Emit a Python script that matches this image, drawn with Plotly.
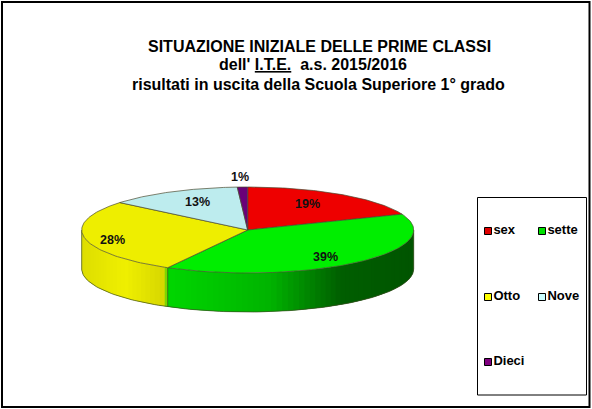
import numpy as np
import plotly.graph_objects as go

# dati
categorie = ['sex', 'sette', 'Otto', 'Nove', 'Dieci']
valori = [19, 39, 28, 13, 1]
colori = ['#EE0000', '#00EE00', '#EEEE00', '#BDECEE', '#6A0078']
colori_legenda = ['#E00000', '#00E000', '#FFFF00', '#CCFFFF', '#800080']
etichette = ['19%', '39%', '28%', '13%', '1%']
pos_etichette = [(307, 204), (325, 257), (112, 240), (197, 202), (240, 177)]
titolo = ['SITUAZIONE INIZIALE DELLE PRIME CLASSI',
          "dell' <u>I.T.E.</u>\u00a0\u00a0a.s. 2015/2016",
          'risultati in uscita della Scuola Superiore 1° grado']
pos_titolo = [(319.5, 46), (312.5, 64.5), (318, 84)]

# geometria della torta (pixel)
cx, cy, rx, ry, h = 247.7, 230, 166, 43, 39

# gradiente del bordo laterale in funzione di x
grad_x = [82, 125, 166, 166.5, 270, 340, 413]
grad_r = [222, 240, 214, 0, 0, 0, 0]
grad_g = [222, 240, 214, 215, 180, 95, 85]
grad_b = [0, 0, 0, 0, 0, 0, 0]

FONT = 'Liberation Sans'


def punto(ang):
    return cx + rx * np.sin(ang), cy - ry * np.cos(ang)


fig = go.Figure()

quote = np.cumsum([0] + valori) / sum(valori) * 2 * np.pi

# bordo laterale: solo la metà davanti
passi = np.radians(np.arange(90, 270.01, 2.0))
passi = np.unique(np.append(passi, quote[(quote > np.pi / 2) & (quote < 3 * np.pi / 2)]))
for k in range(len(passi) - 1):
    a0, a1 = passi[k], passi[k + 1]
    # ogni pezzo si sovrappone al successivo, cosi non restano righe chiare
    fine = passi[min(k + 2, len(passi) - 1)]
    aa = np.linspace(a0, fine, 6)
    x, y = punto(aa)
    xm = punto((a0 + a1) / 2)[0]
    col = 'rgb(%d,%d,%d)' % (np.interp(xm, grad_x, grad_r), np.interp(xm, grad_x, grad_g), np.interp(xm, grad_x, grad_b))
    fig.add_trace(go.Scatter(x=list(x) + list(x[::-1]), y=list(y) + list(y[::-1] + h),
                             mode='lines', fill='toself', fillcolor=col,
                             line=dict(color=col, width=0), hoverinfo='skip', showlegend=False))

# contorno del bordo laterale
aa = np.linspace(np.pi / 2, 3 * np.pi / 2, 120)
x, y = punto(aa)
fig.add_trace(go.Scatter(x=x, y=y + h, mode='lines', line=dict(color='#3A4A20', width=0.7),
                         hoverinfo='skip', showlegend=False))
for a in [np.pi / 2, 3 * np.pi / 2, quote[2]]:
    x0, y0 = punto(a)
    fig.add_trace(go.Scatter(x=[x0, x0], y=[y0, y0 + h], mode='lines', line=dict(color='#3A4A20', width=0.7),
                             hoverinfo='skip', showlegend=False))

# faccia superiore
for i, col in enumerate(colori):
    aa = np.linspace(quote[i], quote[i + 1], 80)
    x, y = punto(aa)
    fig.add_trace(go.Scatter(x=[cx] + list(x) + [cx], y=[cy] + list(y) + [cy], mode='lines', fill='toself',
                             fillcolor=col, line=dict(color='#4A4A30', width=0.7),
                             hoverinfo='skip', showlegend=False))

# legenda
leg_x = [488, 542, 488, 542, 488]
leg_y = [231, 231, 297, 297, 362]
fig.add_trace(go.Scatter(x=leg_x, y=leg_y, mode='markers+text', text=categorie, textposition='middle right',
                         marker=dict(symbol='square', size=7, color=colori_legenda, line=dict(color='black', width=1)),
                         textfont=dict(family=FONT, size=13, color='black', weight='bold'),
                         hoverinfo='skip', showlegend=False))

annotazioni = []
for testo, (x, y) in zip(etichette, pos_etichette):
    annotazioni.append(dict(x=x, y=y, text='<b>' + testo + '</b>', showarrow=False, xanchor='center', yanchor='middle',
                            font=dict(family=FONT, size=12.5, color='#111111')))
for testo, (x, y) in zip(titolo, pos_titolo):
    annotazioni.append(dict(x=x, y=y, text='<b>' + testo + '</b>', showarrow=False, xanchor='center', yanchor='middle',
                            font=dict(family=FONT, size=16, color='black')))

fig.update_layout(
    width=592, height=409, margin=dict(l=0, r=0, t=0, b=0),
    paper_bgcolor='white', plot_bgcolor='white',
    xaxis=dict(range=[0, 592], visible=False, fixedrange=True),
    yaxis=dict(range=[409, 0], visible=False, fixedrange=True),
    annotations=annotazioni,
    shapes=[dict(type='rect', x0=2, y0=2, x1=589.5, y1=407, line=dict(color='black', width=2)),
            dict(type='rect', x0=477.5, y0=197.5, x1=586.5, y1=395, line=dict(color='black', width=1))],
)

fig.write_html("out.html", config=dict(displayModeBar=False),
               post_script="document.body.style.margin='0';document.body.style.overflow='hidden';")
